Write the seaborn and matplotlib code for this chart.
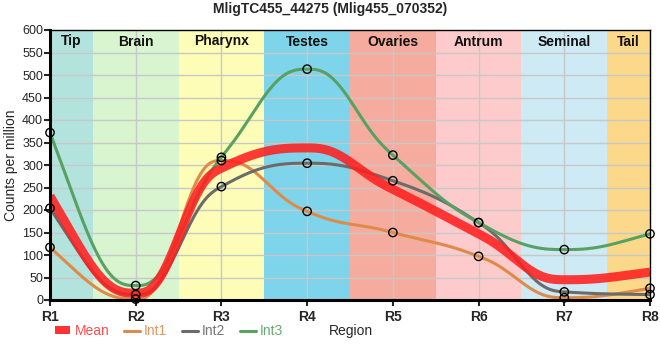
import numpy as np
import pandas as pd
import matplotlib
matplotlib.use("Agg")
import matplotlib.pyplot as plt
import seaborn as sns
from matplotlib.lines import Line2D
from matplotlib.patches import Patch

sns.set_theme(style="white")
plt.rcParams["font.family"] = ["Liberation Sans", "DejaVu Sans"]

regions = ["R1", "R2", "R3", "R4", "R5", "R6", "R7", "R8"]
int1 = [117, 2, 310, 197, 150, 97, 5, 26]
int2 = [204, 12, 252, 304, 265, 172, 18, 12]
int3 = [372, 32, 317, 513, 322, 172, 112, 147]
mean = [231, 15, 293, 338, 246, 147, 45, 62]

band_names = ["Tip", "Brain", "Pharynx", "Testes", "Ovaries", "Antrum", "Seminal", "Tail"]
band_colors = ["#b3e3dd", "#d8f5d0", "#fdfdb8", "#7ed4ea", "#f5ab9d", "#fdcbcb", "#ceeaf4", "#fcd98a"]


def smooth(y, n=40):
    # monotone slopes (d3 style) + quintic hermite segments, for drawing only
    y = np.asarray(y, dtype=float)
    s = np.diff(y)
    m = np.zeros_like(y)
    for i in range(1, len(y) - 1):
        p = (s[i - 1] + s[i]) / 2
        m[i] = (np.sign(s[i - 1]) + np.sign(s[i])) * min(abs(s[i - 1]), abs(s[i]), 0.5 * abs(p))
    m[0] = (3 * s[0] - m[1]) / 2
    m[-1] = (3 * s[-1] - m[-2]) / 2
    xs, ys = [], []
    t = np.linspace(0, 1, n, endpoint=False)
    h0 = 1 - 10 * t**3 + 15 * t**4 - 6 * t**5
    h1 = t - 6 * t**3 + 8 * t**4 - 3 * t**5
    h2 = -4 * t**3 + 7 * t**4 - 3 * t**5
    h3 = 10 * t**3 - 15 * t**4 + 6 * t**5
    for i in range(len(y) - 1):
        xs.append(i + t)
        ys.append(h0 * y[i] + h1 * m[i] + h2 * m[i + 1] + h3 * y[i + 1])
    xs.append([len(y) - 1])
    ys.append([y[-1]])
    return np.concatenate(xs), np.concatenate(ys)


fig = plt.figure(figsize=(6.6, 3.6), dpi=100)
ax = fig.add_axes([50 / 660, 60 / 360, 600 / 660, 270 / 360])

# tissue bands
edges = [0, 0.5, 1.5, 2.5, 3.5, 4.5, 5.5, 6.5, 7]
for i, (name, col) in enumerate(zip(band_names, band_colors)):
    ax.axvspan(edges[i], edges[i + 1], color=col, zorder=0, lw=0)
    ax.text((edges[i] + edges[i + 1]) / 2, 590, name, ha="center", va="top",
            fontsize=10, fontweight="bold", color="#111111", zorder=5)

for yv in range(50, 600, 50):
    ax.axhline(yv, color="#c8c8c8", lw=1, zorder=1)
for xv in range(1, 7):
    ax.axvline(xv, color="#c8c8c8", lw=1, zorder=1)

series = [("Int1", int1, "#df8a48"), ("Int2", int2, "#6b6b6b"), ("Int3", int3, "#57a163")]
for name, vals, col in series:
    xs, ys = smooth(vals)
    sns.lineplot(x=xs, y=ys, color=col, lw=2.2, ax=ax, zorder=3, sort=False)

xs, ys = smooth(mean)
sns.lineplot(x=xs, y=ys, color="#ff2020", lw=6.5, alpha=0.88, ax=ax, zorder=4,
             sort=False, solid_capstyle="butt")

for name, vals, col in series:
    sns.scatterplot(x=np.arange(len(vals)), y=vals, s=36, facecolor="none",
                    edgecolor="black", linewidth=1, ax=ax, zorder=6, clip_on=False)

ax.set_xlim(0, 7)
ax.set_ylim(0, 600)
ax.set_xticks(range(8))
ax.set_xticklabels(regions, fontweight="bold", fontsize=10)
ax.set_yticks(range(0, 601, 50))
ax.tick_params(axis="y", labelsize=9, length=4, width=1.5, pad=1, left=True)
ax.tick_params(axis="x", length=4, width=1.5, pad=3, bottom=True)
ax.set_ylabel("Counts per million", fontsize=10, labelpad=3)
ax.set_xlabel("")
for s in ["left", "bottom"]:
    ax.spines[s].set_linewidth(2.2)
for s in ["top", "right"]:
    ax.spines[s].set_linewidth(1)
for s in ax.spines.values():
    s.set_color("black")
    s.set_zorder(7)

fig.suptitle("MligTC455_44275 (Mlig455_070352)", fontsize=10, fontweight="bold", y=0.995)

handles = [Patch(facecolor="#ff3333", edgecolor="none"),
           Line2D([], [], color="#df8a48", lw=2.2),
           Line2D([], [], color="#6b6b6b", lw=2.2),
           Line2D([], [], color="#57a163", lw=2.2)]
leg = fig.legend(handles, ["Mean", "Int1", "Int2", "Int3"], loc="center left",
                 bbox_to_anchor=(55 / 660, 29 / 360), ncol=4, frameon=False,
                 fontsize=10, handlelength=1.1, handleheight=0.5, handletextpad=0.3,
                 columnspacing=1.1, borderaxespad=0, borderpad=0,
                 labelcolor=["#ff4d4d", "#e3955a", "#777777", "#66ab71"])
fig.text(351 / 660, 29 / 360, "Region", ha="center", va="center", fontsize=10)

fig.savefig("out.png", dpi=100)
